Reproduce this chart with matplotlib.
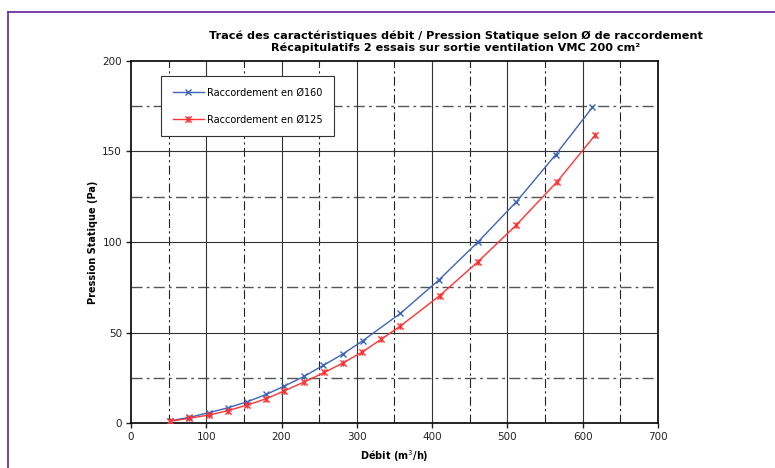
import matplotlib
matplotlib.use("Agg")
import matplotlib.pyplot as plt
from matplotlib.path import Path
from matplotlib.lines import Line2D

# Raccordement Ø160
debit_160 = [52, 77.5, 104, 129, 154.5, 180, 203, 230, 255.5, 281, 308, 358, 409, 461, 512, 564, 613]
pression_160 = [1.4, 3.3, 5.9, 8.6, 11.9, 16.0, 20.4, 25.9, 32.0, 38.1, 45.6, 60.7, 79.1, 100.1, 122.3, 148.2, 174.4]

# Raccordement Ø125
debit_125 = [52, 77.5, 104, 129, 154.5, 180, 203, 230, 257, 282, 307, 332.5, 358, 410, 461, 511.5, 566, 617]
pression_125 = [1.1, 2.8, 4.6, 7.0, 10.1, 13.6, 17.8, 22.8, 28.1, 33.4, 39.3, 46.4, 53.7, 70.4, 89.2, 109.3, 133.3, 159.3]

x_ticks = [0, 100, 200, 300, 400, 500, 600, 700]
y_ticks = [0, 50, 100, 150, 200]
x_minor = [50, 150, 250, 350, 450, 550, 650]
y_minor = [25, 75, 125, 175]

titre = ("Tracé des caractéristiques débit / Pression Statique selon Ø de raccordement\n"
         "Récapitulatifs 2 essais sur sortie ventilation VMC 200 cm²")

# excel-like star marker: x with a vertical bar
star = Path([(-1, -1), (1, 1), (-1, 1), (1, -1), (0, -1), (0, 1)],
            [Path.MOVETO, Path.LINETO, Path.MOVETO, Path.LINETO, Path.MOVETO, Path.LINETO])

fig = plt.figure(figsize=(7.75, 4.68), dpi=100)
ax = fig.add_axes([0.169, 0.0955, 0.680, 0.7744])

dashdot = (0, (8, 3, 2, 3))
for xv in x_minor:
    ax.axvline(xv, color="#222222", lw=0.8, ls=dashdot, zorder=1)
for yv in y_minor:
    ax.axhline(yv, color="#555555", lw=1.0, ls=dashdot, zorder=1)
for xv in x_ticks[1:-1]:
    ax.axvline(xv, color="#333333", lw=0.8, zorder=1)
for yv in y_ticks[1:-1]:
    ax.axhline(yv, color="#333333", lw=0.8, zorder=1)

ax.plot(debit_160, pression_160, color="#3c64b8", lw=1, marker="x", ms=4.5,
        mew=1, label="Raccordement en Ø160", zorder=3)
ax.plot(debit_125, pression_125, color="#ff3333", lw=1, marker=star, ms=4.5,
        mew=1, label="Raccordement en Ø125", zorder=3)

ax.set_xlim(0, 700)
ax.set_ylim(0, 200)
ax.set_xticks(x_ticks)
ax.set_yticks(y_ticks)
ax.tick_params(axis="both", direction="out", length=3.5, width=1, labelsize=7.5,
               colors="#222222", pad=3)
for s in ax.spines.values():
    s.set_color("black")
    s.set_linewidth(1.2)

ax.set_xlabel("Débit (m$^3$/h)", fontsize=7, fontweight="bold", labelpad=4)
ax.set_ylabel("Pression Statique (Pa)", fontsize=7, fontweight="bold", labelpad=3)

leg = ax.legend(loc="upper left", bbox_to_anchor=(0.057, 0.958), borderaxespad=0,
                fancybox=False, fontsize=7, handlelength=3.2, handletextpad=0.3,
                labelspacing=1.75, borderpad=1.2, framealpha=1)
leg.get_frame().set_edgecolor("#333333")
leg.get_frame().set_linewidth(0.8)

fig.text(0.588, 0.911, titre, ha="center", va="center", fontsize=8.1,
         fontweight="bold", linespacing=1.2)

# purple border of the sheet
fig.add_artist(Line2D([8, 775], [456, 456], transform=None, color="#7030a0", lw=1.3))
fig.add_artist(Line2D([8, 8], [0, 456], transform=None, color="#7030a0", lw=1.3))

fig.savefig("out.png", dpi=100)
